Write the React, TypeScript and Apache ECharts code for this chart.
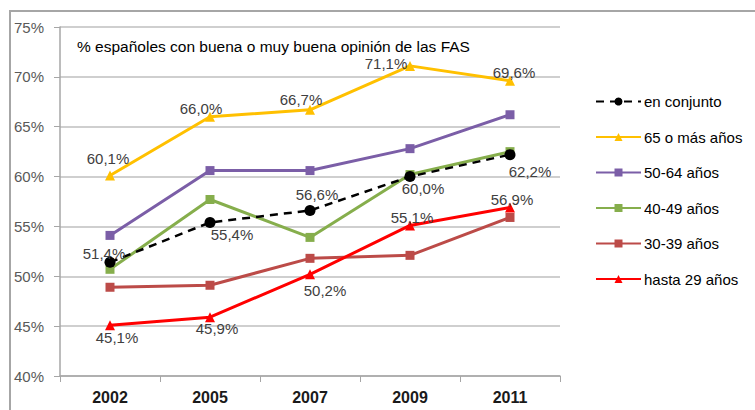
import React, { useEffect, useRef } from "react";
import * as echarts from "echarts";

const years = ["2002", "2005", "2007", "2009", "2011"];
const yTicks = [40, 45, 50, 55, 60, 65, 70, 75];

const conjunto = [51.4, 55.4, 56.6, 60.0, 62.2];
const mas65 = [60.1, 66.0, 66.7, 71.1, 69.6];
const a50_64 = [54.1, 60.6, 60.6, 62.8, 66.2];
const a40_49 = [50.7, 57.7, 53.9, 60.2, 62.5];
const a30_39 = [48.9, 49.1, 51.8, 52.1, 55.9];
const hasta29 = [45.1, 45.9, 50.2, 55.1, 56.9];

const seriesNames = ["en conjunto", "65 o más años", "50-64 años", "40-49 años", "30-39 años", "hasta 29 años"];
const titleText = "% españoles con buena o muy buena opinión de las FAS";

// label offsets (style only)
const conjuntoOff = [[-6, -9], [22, 12], [7, -16], [13, 12], [20, 17]];
const mas65Off = [[-2, -17], [-9, -8], [-9, -10], [-24, -2], [4, -8]];
const hasta29Off = [[7, 12], [7, 11], [15, 16], [2, -8], [2, -8]];

const fmt = (v: number) => v.toFixed(1).replace(".", ",") + "%";
const SANS = "'Liberation Sans', Arial, sans-serif";

function withLabels(vals: number[], offs: number[][]) {
  return vals.map((v, i) => ({
    value: v,
    label: {
      show: true,
      position: "inside",
      offset: offs[i],
      formatter: () => fmt(v),
      fontSize: 15,
      fontFamily: SANS,
      color: "#404040",
    },
  }));
}

export default function App() {
  const ref = useRef<HTMLDivElement>(null);
  useEffect(() => {
    if (!ref.current) return;
    const chart = echarts.init(ref.current, undefined, { renderer: "svg" });
    const mk = (name: string, data: any, color: string, symbol: string, size: number, extra: any = {}) => ({
      name,
      type: "line",
      data,
      symbol,
      symbolSize: size,
      lineStyle: { color, width: 3, ...(extra.lineStyle || {}) },
      itemStyle: { color },
      z: extra.z || 2,
    });
    chart.setOption({
      animation: false,
      backgroundColor: "#fff",
      graphic: [
        {
          type: "rect",
          shape: { x: 10, y: 11, width: 800, height: 500 },
          style: { fill: "none", stroke: "#a6a6a6", lineWidth: 2 },
          silent: true,
        },
      ],
      title: {
        text: titleText,
        left: 72,
        top: 33,
        textStyle: { fontFamily: SANS, fontSize: 15.5, fontWeight: "normal", color: "#000" },
      },
      grid: { left: 60, right: 195, top: 27, bottom: 34 },
      legend: {
        orient: "vertical",
        left: 590,
        top: 89,
        itemWidth: 45,
        itemHeight: 10,
        itemGap: 20.5,
        data: seriesNames,
        textStyle: { fontFamily: SANS, fontSize: 15, color: "#000", padding: [0, 0, 0, -2] },
      },
      xAxis: {
        type: "category",
        data: years,
        boundaryGap: true,
        axisLine: { lineStyle: { color: "#a6a6a6", width: 1.5 } },
        axisTick: { show: true, length: 6, lineStyle: { color: "#a6a6a6" } },
        axisLabel: { fontFamily: SANS, fontSize: 16, fontWeight: "bold", color: "#1a1a1a", margin: 13 },
      },
      yAxis: {
        type: "value",
        min: yTicks[0],
        max: yTicks[yTicks.length - 1],
        interval: 5,
        axisLine: { show: true, lineStyle: { color: "#a6a6a6", width: 1.5 } },
        axisTick: { show: true, length: 6, lineStyle: { color: "#a6a6a6" } },
        axisLabel: { formatter: "{value}%", fontFamily: SANS, fontSize: 15, color: "#595959", margin: 16 },
        splitLine: { lineStyle: { color: "#bfbfbf", width: 1.5 } },
      },
      series: [
        mk(seriesNames[0], withLabels(conjunto, conjuntoOff), "#000", "circle", 11, {
          lineStyle: { type: [8, 6], width: 2.5 },
          z: 5,
        }),
        mk(seriesNames[1], withLabels(mas65, mas65Off), "#FFC000", "triangle", 10),
        mk(seriesNames[2], a50_64, "#7B5EA7", "rect", 9),
        mk(seriesNames[3], a40_49, "#86AE4C", "rect", 9, { z: 3 }),
        mk(seriesNames[4], a30_39, "#BC4B48", "rect", 9),
        mk(seriesNames[5], withLabels(hasta29, hasta29Off), "#FF0000", "triangle", 10, { z: 4 }),
      ],
    });
    return () => chart.dispose();
  }, []);
  return <div ref={ref} style={{ width: 755, height: 410, position: "absolute", left: 0, top: 0 }} />;
}
